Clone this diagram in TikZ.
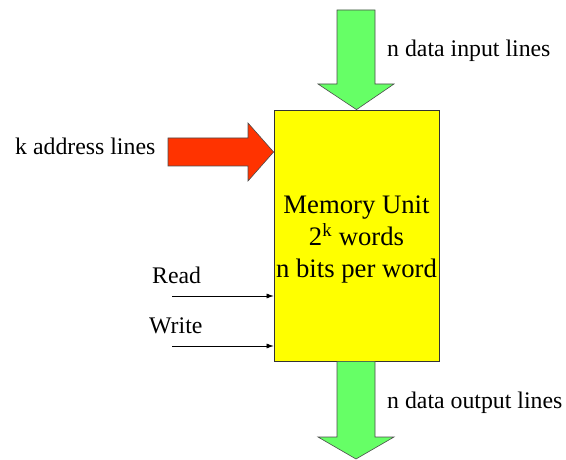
\documentclass[tikz,border=0pt]{standalone}
\usepackage{fontspec}
\setmainfont{Liberation Serif}
\usetikzlibrary{arrows.meta}
\definecolor{memyellow}{HTML}{FFFF00}
\definecolor{busgreen}{HTML}{66FF66}
\definecolor{addrred}{HTML}{FF3300}
\tikzset{
  blockarrow/.style={draw=black!70, line width=0.6pt, line join=miter},
  unitbox/.style={draw=black!80, fill=memyellow, line width=0.8pt,
    minimum width=165pt, minimum height=251pt, inner sep=0pt},
  unittext/.style={inner sep=0pt, align=center, font=\fontsize{26.7}{32}\selectfont},
  lbl/.style={inner sep=0pt, font=\fontsize{23.8}{27}\selectfont},
  ctrl/.style={-{Latex[length=7pt,width=5pt]}, line width=0.6pt}
}
\begin{document}
\begin{tikzpicture}[x=1pt,y=-1pt]
\useasboundingbox (0,0) rectangle (566,460);

% memory unit
\node[unitbox] (mem) at (356.5,235.5) {};
\node[unittext] (memtxt) at (356.5,240) {Memory Unit\\2\textsuperscript{k} words\\n bits per word};

% data input bus
\draw[blockarrow, fill=busgreen]
  (337,10) -- (375,10) -- (375,84) -- (394,84) -- (mem.north) -- (318,84) -- (337,84) -- cycle;
% data output bus
\coordinate (outtip) at (356,459);
\draw[blockarrow, fill=busgreen]
  ([xshift=-19.5pt]mem.south) -- ([xshift=18.5pt]mem.south) -- (375,437) -- (394,437) -- (outtip) -- (318,437) -- (337,437) -- cycle;
% address lines
\draw[blockarrow, fill=addrred]
  (168,138) -- (248,138) -- (248,123) -- (mem.west |- 0,152) -- (248,181) -- (248,166) -- (168,166) -- cycle;

% labels
\node[lbl, anchor=base west] (lin) at (387,57) {n data input lines};
\node[lbl, anchor=base west] (lout) at (387,408) {n data output lines};
\node[lbl, anchor=base west] (laddr) at (15,155) {k address lines};
\node[lbl, anchor=base west] (lread) at (152,283) {Read};
\node[lbl, anchor=base west] (lwrite) at (149,333) {Write};

% control lines
\coordinate (rd) at (172,296);
\coordinate (wr) at (172,346);
\draw[ctrl] (rd) -- (rd -| mem.west);
\draw[ctrl] (wr) -- (wr -| mem.west);
\end{tikzpicture}
\end{document}
